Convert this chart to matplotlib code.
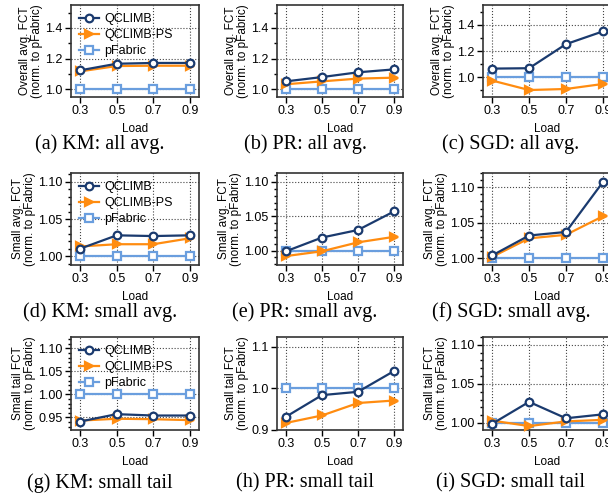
import numpy as np
import matplotlib
matplotlib.use("Agg")
import matplotlib.pyplot as plt
from matplotlib.ticker import MultipleLocator

plt.rcParams['font.family'] = ['Liberation Sans', 'DejaVu Sans']

load = [0.3, 0.5, 0.7, 0.9]
load_ticks = ['0.3', '0.5', '0.7', '0.9']

# QCLIMB, QCLIMB-PS, pFabric per panel
km_all = ([1.124, 1.167, 1.172, 1.172], [1.117, 1.152, 1.154, 1.154], [1.0, 1.0, 1.0, 1.0])
pr_all = ([1.052, 1.080, 1.111, 1.130], [1.033, 1.052, 1.070, 1.076], [1.0, 1.0, 1.0, 1.0])
sgd_all = ([1.066, 1.069, 1.252, 1.349], [0.975, 0.903, 0.911, 0.949], [1.0, 1.0, 1.0, 1.0])
km_small = ([1.010, 1.028, 1.027, 1.028], [1.013, 1.016, 1.016, 1.024], [1.0, 1.0, 1.0, 1.0])
pr_small = ([0.999, 1.019, 1.030, 1.057], [0.992, 0.999, 1.012, 1.020], [1.0, 1.0, 1.0, 1.0])
sgd_small = ([1.004, 1.032, 1.037, 1.107], [1.002, 1.028, 1.033, 1.059], [1.0, 1.0, 1.0, 1.0])
km_tail = ([0.941, 0.957, 0.954, 0.954], [0.943, 0.947, 0.946, 0.944], [1.0, 1.0, 1.0, 1.0])
pr_tail = ([0.932, 0.984, 0.992, 1.042], [0.917, 0.935, 0.965, 0.971], [1.0, 1.0, 1.0, 1.0])
sgd_tail = ([0.999, 1.027, 1.006, 1.011], [1.003, 0.996, 1.002, 1.004], [1.0, 1.0, 1.0, 1.0])

names = ['QCLIMB', 'QCLIMB-PS', 'pFabric']
colors = ['#1a3a6e', '#ff8c10', '#6a9ede']
markers = ['o', '>', 's']
faces = ['white', '#ff8c10', 'white']
msizes = [5.5, 5.5, 5.5]

captions = ['(a) KM: all avg.', '(b) PR: all avg.', '(c) SGD: all avg.',
            '(d) KM: small avg.', '(e) PR: small avg.', '(f) SGD: small avg.',
            '(g) KM: small tail', '(h) PR: small tail', '(i) SGD: small tail']
ylabels = ['Overall avg. FCT\n(norm. to pFabric)', 'Small avg. FCT\n(norm. to pFabric)',
           'Small tail FCT\n(norm. to pFabric)']

panels = [km_all, pr_all, sgd_all, km_small, pr_small, sgd_small, km_tail, pr_tail, sgd_tail]
ylims = [(0.95, 1.55), (0.95, 1.55), (0.85, 1.55),
         (0.988, 1.112), (0.979, 1.113), (0.9905, 1.12),
         (0.9225, 1.125), (0.9, 1.124), (0.991, 1.11)]
majors = [0.2, 0.2, 0.2, 0.05, 0.05, 0.05, 0.05, 0.1, 0.05]
minors = [0.1, 0.1, 0.1, 0.01, 0.01, 0.01, 0.01, None, 0.01]
yfmt = ['%.1f', '%.1f', '%.1f', '%.2f', '%.2f', '%.2f', '%.2f', '%.1f', '%.2f']

W, H = 608, 493
fig = plt.figure(figsize=(W / 100, H / 100), dpi=100)

cols = [(71, 199), (277, 403), (483, 612)]
rows = [(5, 97), (173, 265), (337, 430)]
cap_x = [100, 305, 511]
cap_y = [144, 312, 483]

for i in range(9):
    r, c = divmod(i, 3)
    x0, x1 = cols[c]
    y0, y1 = rows[r]
    ax = fig.add_axes([x0 / W, 1 - y1 / H, (x1 - x0) / W, (y1 - y0) / H])
    data = panels[i]
    for k in [2, 1, 0]:
        ax.plot(load, data[k], color=colors[k], marker=markers[k], mfc=faces[k],
                mec=colors[k], ms=msizes[k], mew=1.6, lw=1.6, label=names[k],
                clip_on=False, zorder=3 + (2 - k))
    ax.set_xlim(0.25, 0.95)
    ax.set_xticks(load)
    ax.set_xticklabels(load_ticks)
    ax.yaxis.set_major_locator(MultipleLocator(majors[i]))
    if minors[i]:
        ax.yaxis.set_minor_locator(MultipleLocator(minors[i]))
    ax.yaxis.set_major_formatter(plt.FormatStrFormatter(yfmt[i]))
    ax.set_ylim(*ylims[i])
    ax.grid(True, which='major', linestyle=':', color='#444444', lw=0.8)
    ax.tick_params(axis='both', which='major', labelsize=9, length=4, width=1, direction='out', pad=2)
    ax.tick_params(axis='y', which='minor', length=2.5, width=1, direction='out')
    for s in ax.spines.values():
        s.set_linewidth(1.2)
        s.set_color('#333333')
    ax.set_xlabel('Load', fontsize=8.5, labelpad=4)
    ax.set_ylabel(ylabels[r], fontsize=8.5, labelpad=2, linespacing=1.0)
    if c == 0:
        h, l = ax.get_legend_handles_labels()
        ax.legend(h[::-1], l[::-1], loc='upper left', frameon=False, fontsize=9,
                  handlelength=1.6, handletextpad=0.4, labelspacing=0.32, borderaxespad=0.25)
    fig.text(cap_x[c] / W, 1 - cap_y[r] / H, captions[i], ha='center', va='center',
             fontsize=14.5, family=['Liberation Serif', 'DejaVu Serif'])

fig.savefig('out.png', dpi=100)
